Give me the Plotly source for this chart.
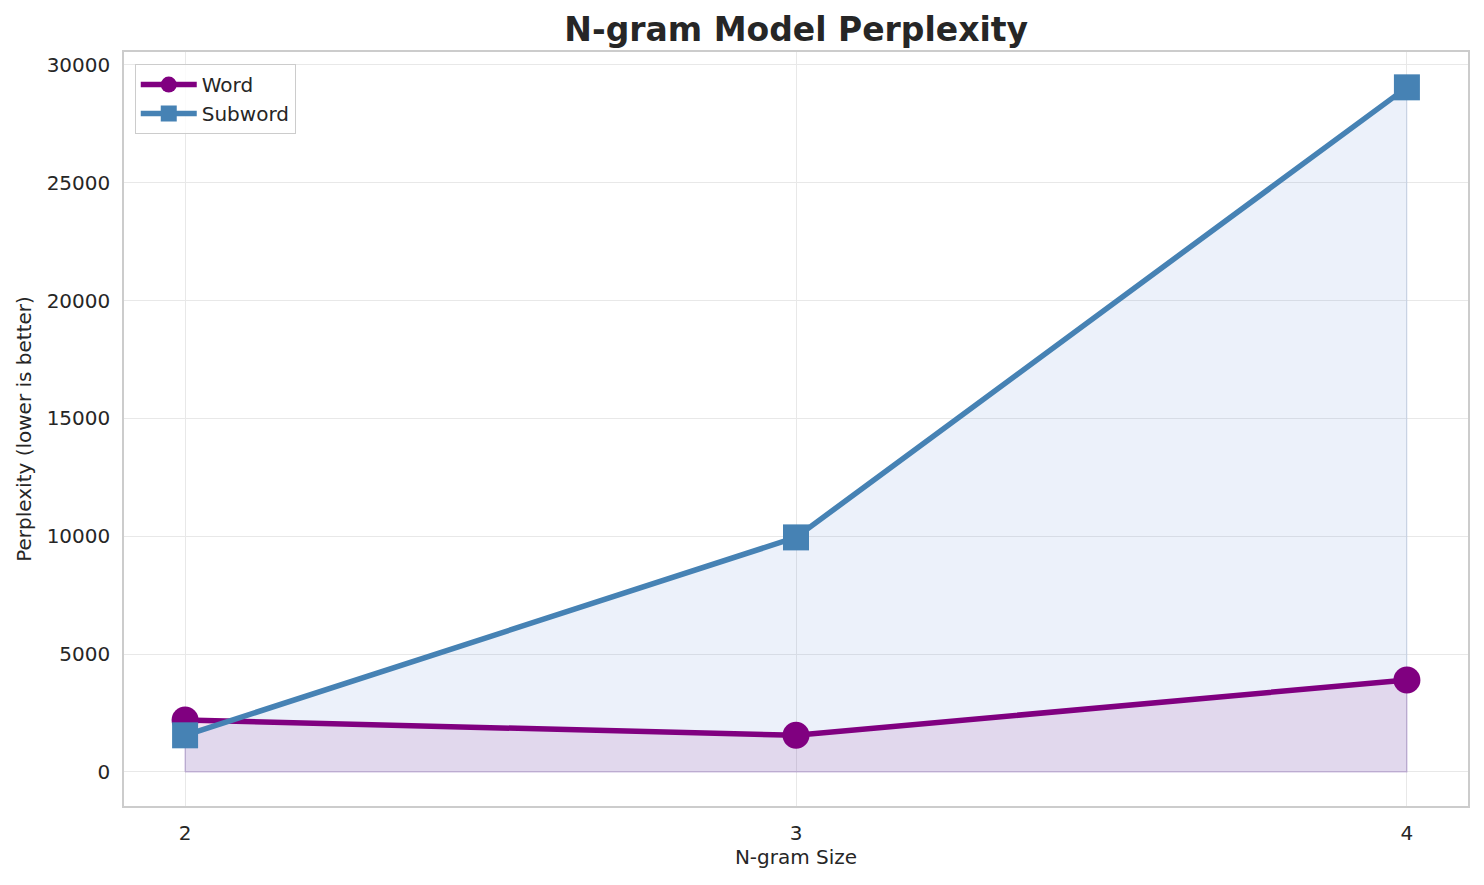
"""N-gram perplexity line chart -- Plotly recreation."""

import plotly.graph_objects as go

# data
ngram_sizes = [2, 3, 4]
word_ppl = [2200, 1550, 3900]
subword_ppl = [1550, 9950, 29050]
y_ticks = [0, 5000, 10000, 15000, 20000, 25000, 30000]

WORD_COLOR = "#800080"
SUBWORD_COLOR = "#4682B4"
TEXT = "#262626"
GRID = "#E8E8E8"
SPINE = "#CCCCCC"


def fill_polygon(xs, ys, fillcolor, edgecolor):
    """Closed polygon from the baseline up to the series (like fill_between)."""
    px = [xs[0]] + list(xs) + [xs[-1], xs[0]]
    py = [0] + list(ys) + [0, 0]
    return go.Scatter(
        x=px, y=py, mode="lines", fill="toself",
        fillcolor=fillcolor, line=dict(color=edgecolor, width=1.2),
        showlegend=False, hoverinfo="skip",
    )


fig = go.Figure()

# fills first, so lines sit on top
fig.add_trace(fill_polygon(ngram_sizes, subword_ppl,
                           "rgba(100,140,210,0.12)", "rgba(100,140,210,0.18)"))
fig.add_trace(fill_polygon(ngram_sizes, word_ppl,
                           "rgba(128,0,128,0.10)", "rgba(128,0,128,0.16)"))

fig.add_trace(go.Scatter(
    x=ngram_sizes, y=word_ppl, name="Word", mode="lines+markers",
    line=dict(color=WORD_COLOR, width=5.5),
    marker=dict(symbol="circle", size=27, color=WORD_COLOR),
))
fig.add_trace(go.Scatter(
    x=ngram_sizes, y=subword_ppl, name="Subword", mode="lines+markers",
    line=dict(color=SUBWORD_COLOR, width=5.5),
    marker=dict(symbol="square", size=26, color=SUBWORD_COLOR),
))

# page body has an 8px margin, so the figure is 8px smaller each way
fig.update_layout(
    width=1476, height=877,
    paper_bgcolor="white", plot_bgcolor="white",
    font=dict(family="DejaVu Sans", size=20, color=TEXT),
    margin=dict(l=116, r=16, t=44, b=79),
    title=dict(text="<b>N-gram Model Perplexity</b>", x=0.534, xanchor="center",
               xref="container", y=0.975, yanchor="middle",
               font=dict(size=33, color=TEXT)),
    legend=dict(
        x=0.008, y=0.984, xanchor="left", yanchor="top",
        bgcolor="rgba(255,255,255,0.8)", bordercolor="#CCCCCC", borderwidth=1,
        font=dict(size=20, color=TEXT), itemwidth=56, tracegroupgap=0,
    ),
)

fig.update_xaxes(
    range=[1.9, 4.1], tickvals=ngram_sizes, ticktext=[str(n) for n in ngram_sizes],
    showgrid=True, gridcolor=GRID, gridwidth=1, zeroline=False,
    showline=True, linecolor=SPINE, linewidth=1.5, mirror=True,
    ticks="", ticklabelstandoff=8,
    title=dict(text="N-gram Size", font=dict(size=20), standoff=6),
)
fig.update_yaxes(
    range=[-1450, 30550], tickvals=y_ticks, tickformat="d",
    showgrid=True, gridcolor=GRID, gridwidth=1, zeroline=False,
    showline=True, linecolor=SPINE, linewidth=1.5, mirror=True,
    ticks="", ticklabelstandoff=8,
    title=dict(text="Perplexity (lower is better)", font=dict(size=20), standoff=10),
)

fig.write_html("out.html")
